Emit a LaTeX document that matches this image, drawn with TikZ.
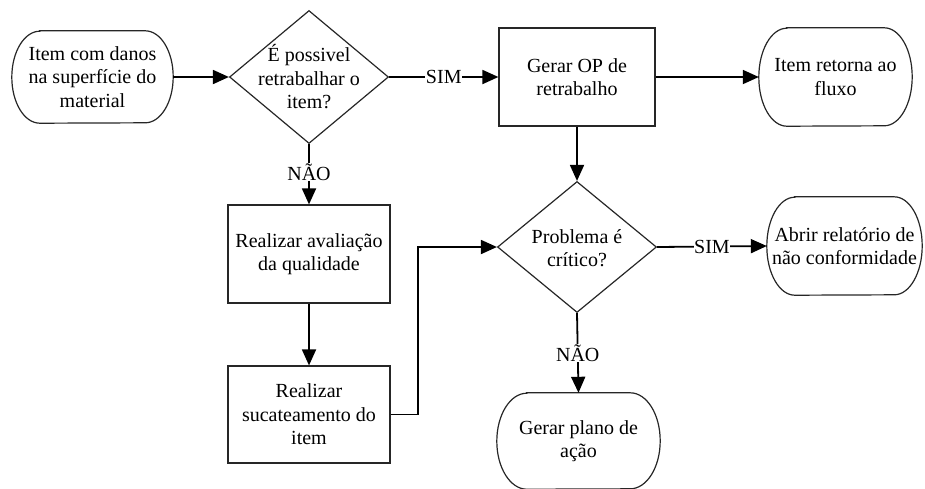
\documentclass[tikz,border=0pt]{standalone}
\usepackage{fontspec}
\setmainfont{Liberation Serif}
\newfontfamily\tnrfont{Liberation Serif}
\usetikzlibrary{arrows.meta,shapes.geometric}
\newcommand{\flowfont}{\tnrfont\fontsize{20}{23.5}\selectfont}
\begin{document}
\begin{tikzpicture}[x=1pt,y=-1pt,
  txt/.style={align=center,font=\flowfont,inner sep=0pt},
  shapeline/.style={line width=1.2pt,draw=black!85},
  term/.style={txt,draw=none},
  procbox/.style={txt,shapeline,draw,rectangle},
  decis/.style={diamond,shapeline,draw,inner sep=0pt},
  flow/.style={line width=1.8pt,-{Triangle[length=16pt,width=14pt]}},
  lbl/.style={txt,fill=white,inner sep=0.5pt}]
\useasboundingbox (0,0) rectangle (925,488);

% terminals
\node[term,minimum width=161pt,minimum height=92pt] (t1) at (92.5,77) {\flowfont Item com danos\\\flowfont na superfície do\\\flowfont material};
\node[term,minimum width=153pt,minimum height=98pt] (t2) at (835.5,77) {\flowfont Item retorna ao\\\flowfont fluxo};
\node[term,minimum width=155pt,minimum height=98pt] (t4) at (844.5,246) {\flowfont Abrir relatório de\\\flowfont não conformidade};
\node[term,minimum width=163pt,minimum height=96pt] (t5) at (578.5,441) {\flowfont Gerar plano de\\\flowfont ação};
\foreach \nm/\rx/\ry in {t1/28/46, t2/28/49, t4/28/49, t5/30/48}
  \draw[shapeline] ([xshift=\rx pt]\nm.north west) -- ([xshift=-\rx pt]\nm.north east)
    arc[start angle=90,end angle=-90,x radius=\rx pt,y radius=\ry pt]
    -- ([xshift=\rx pt]\nm.south west)
    arc[start angle=270,end angle=90,x radius=\rx pt,y radius=\ry pt] -- cycle;

% decisions
\node[decis,minimum width=159pt,minimum height=133pt] (d1) at (309,77) {};
\node[txt] (d1t) at (d1) {\flowfont É possivel\\\flowfont retrabalhar o\\\flowfont item?};
\node[decis,minimum width=159pt,minimum height=131pt] (d2) at (577,247) {};
\node[txt] (d2t) at ([yshift=-1pt]d2) {\flowfont Problema é\\\flowfont crítico?};

% process boxes
\node[procbox,minimum width=156pt,minimum height=98pt] (op) at (577,77) {\flowfont Gerar OP de\\\flowfont retrabalho};
\node[procbox,minimum width=162pt,minimum height=98pt] (av) at (309,254) {\flowfont Realizar avaliação\\\flowfont da qualidade};
\node[procbox,minimum width=162pt,minimum height=97pt] (su) at (309,414.5) {\flowfont Realizar\\\flowfont sucateamento do\\\flowfont item};

% connectors
\draw[flow] (t1.east) -- (d1.west);
\draw[flow] (d1.east) -- node[lbl,pos=0.5] (s1) {SIM} (op.west);
\draw[flow] (op.east) -- (t2.west);
\draw[flow] (d1.south) -- node[lbl,pos=0.47] (n1) {NÃO} (av.north);
\draw[flow] (av.south) -- (su.north);
\coordinate (bend) at (418,414.5);
\draw[flow] (su.east) -- (bend) |- (d2.west);
\draw[flow] (op.south) -- (d2.north);
\draw[flow] (d2.east) -- node[lbl,pos=0.5] (s2) {SIM} (t4.west);
\draw[flow] (d2.south) -- node[lbl,pos=0.5] (n2) {NÃO} (t5.north);
\end{tikzpicture}
\end{document}
